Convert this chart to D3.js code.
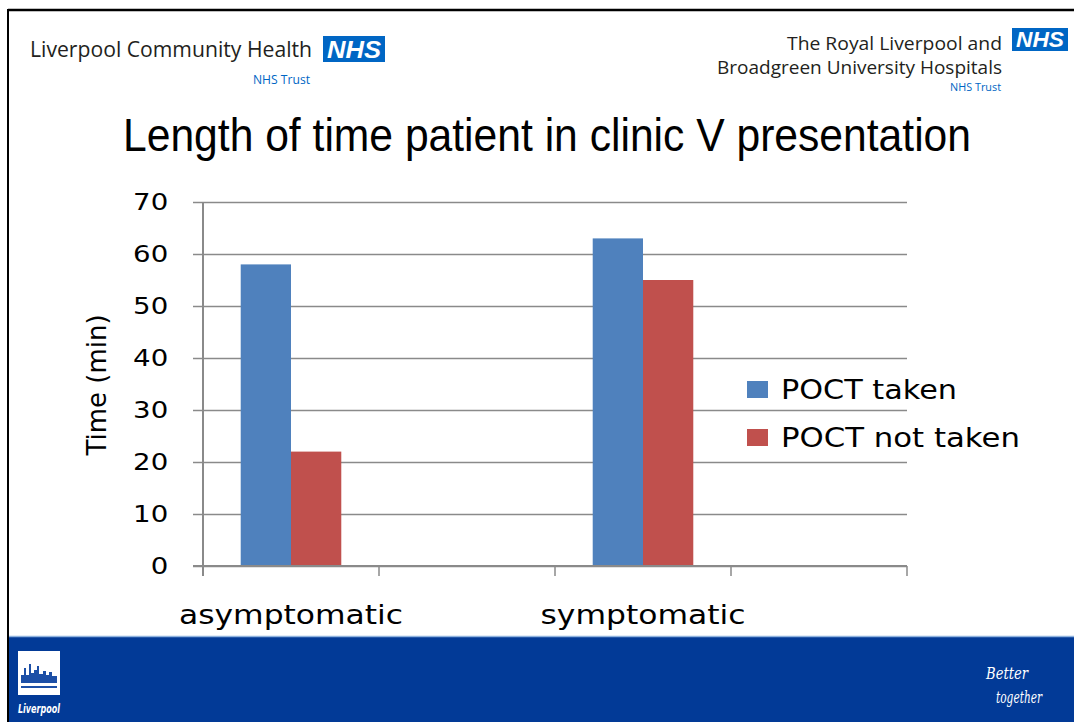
<!DOCTYPE html>
<html>
<head>
<meta charset="utf-8">
<script src="https://cdn.jsdelivr.net/npm/d3@7"></script>
<style>
  body { margin: 0; background: #fff; }
  svg { display: block; }
</style>
</head>
<body>
<svg id="slide" width="1074" height="722"></svg>
<script>
// chart data
var slots = ["asymptomatic", "slot2", "symptomatic", "slot4"]
var slotLabels = ["asymptomatic", "", "symptomatic", ""]
var seriesNames = ["POCT taken", "POCT not taken"]
var poctTaken = [58, null, 63, null]
var poctNotTaken = [22, null, 55, null]
var yTicks = [0, 10, 20, 30, 40, 50, 60, 70]

var colors = ["#4F81BD", "#C0504D"]
var gridColor = "#8a8a8a"

var svg = d3.select("#slide")

// slide frame
svg.append("rect").attr("x", 0).attr("y", 0).attr("width", 1074).attr("height", 722).attr("fill", "#fff")
svg.append("line").attr("x1", 8).attr("x2", 1074).attr("y1", 10).attr("y2", 10)
  .attr("stroke", "#000").attr("stroke-width", 2.5)
svg.append("line").attr("x1", 8).attr("x2", 8).attr("y1", 9).attr("y2", 722)
  .attr("stroke", "#000").attr("stroke-width", 2)

// header, left
svg.append("text").attr("x", 30).attr("y", 57)
  .attr("textLength", 282).attr("lengthAdjust", "spacingAndGlyphs")
  .style("font-family", "'Open Sans'").style("font-size", "21px").style("fill", "#231f20")
  .text("Liverpool Community Health")
function nhsLogo(x, y, w, h) {
  svg.append("rect").attr("x", x).attr("y", y).attr("width", w).attr("height", h).attr("fill", "#0066c4")
  svg.append("text").attr("x", x + w / 2).attr("y", y + h - 4)
    .attr("text-anchor", "middle")
    .attr("textLength", w - 8).attr("lengthAdjust", "spacingAndGlyphs")
    .style("font-family", "'Liberation Sans'").style("font-weight", "bold").style("font-style", "italic")
    .style("font-size", (h * 0.95) + "px").style("fill", "#fff")
    .text("NHS")
}
nhsLogo(323, 36, 62, 26)
svg.append("text").attr("x", 310).attr("y", 84).attr("text-anchor", "end")
  .attr("textLength", 57).attr("lengthAdjust", "spacingAndGlyphs")
  .style("font-family", "'Open Sans'").style("font-size", "12px").style("fill", "#0066c4")
  .text("NHS Trust")

// header, right
svg.append("text").attr("x", 1002).attr("y", 50).attr("text-anchor", "end")
  .attr("textLength", 215).attr("lengthAdjust", "spacingAndGlyphs")
  .style("font-family", "'Open Sans'").style("font-size", "18px").style("fill", "#231f20")
  .text("The Royal Liverpool and")
svg.append("text").attr("x", 1002).attr("y", 74).attr("text-anchor", "end")
  .attr("textLength", 285).attr("lengthAdjust", "spacingAndGlyphs")
  .style("font-family", "'Open Sans'").style("font-size", "18px").style("fill", "#231f20")
  .text("Broadgreen University Hospitals")
nhsLogo(1012, 28, 56, 23)
svg.append("text").attr("x", 1001).attr("y", 91).attr("text-anchor", "end")
  .attr("textLength", 51).attr("lengthAdjust", "spacingAndGlyphs")
  .style("font-family", "'Open Sans'").style("font-size", "11px").style("fill", "#0066c4")
  .text("NHS Trust")

// title
svg.append("text").attr("x", 123).attr("y", 151)
  .attr("textLength", 848).attr("lengthAdjust", "spacingAndGlyphs")
  .style("font-family", "'Liberation Sans'").style("font-size", "46px").style("fill", "#000")
  .text("Length of time patient in clinic V presentation")

// chart
var x = d3.scaleBand().domain(slots).range([203, 907])
var xInner = d3.scaleBand().domain(seriesNames).range([0, x.bandwidth()]).paddingOuter(0.75)
var y = d3.scaleLinear().domain([0, 70]).range([566, 202])

// gridlines
svg.append("g")
  .attr("transform", "translate(203,0)")
  .call(d3.axisLeft(y).tickValues(yTicks).tickSize(-704).tickFormat(""))
  .call(function (g) { g.select(".domain").remove() })
  .selectAll("line").attr("stroke", gridColor).attr("stroke-width", 1.5)

// bars
var series = [poctTaken, poctNotTaken]
series.forEach(function (vals, si) {
  svg.append("g").selectAll("rect")
    .data(slots.map(function (s, i) { return { slot: s, v: vals[i] } }).filter(function (d) { return d.v != null }))
    .enter().append("rect")
    .attr("x", function (d) { return x(d.slot) + xInner(seriesNames[si]) })
    .attr("width", xInner.bandwidth())
    .attr("y", function (d) { return y(d.v) })
    .attr("height", function (d) { return y(0) - y(d.v) })
    .attr("fill", colors[si])
})

// y axis
var yAxis = svg.append("g")
  .attr("transform", "translate(203,0)")
  .call(d3.axisLeft(y).tickValues(yTicks).tickSize(10).tickPadding(19).tickSizeOuter(0))
yAxis.select(".domain").attr("stroke", gridColor).attr("stroke-width", 2)
  .attr("d", "M0," + y(70) + "V" + (y(0) + 10))
yAxis.selectAll(".tick line").attr("stroke", gridColor).attr("stroke-width", 1.5)
yAxis.selectAll(".tick text")
  .style("font-family", "'DejaVu Sans'").style("font-size", "23px").style("fill", "#000")
  .attr("transform", "scale(1.2,1)")

// x axis: line, ticks at slot boundaries, labels at slot centres
svg.append("line").attr("x1", 193).attr("x2", 907).attr("y1", y(0)).attr("y2", y(0))
  .attr("stroke", gridColor).attr("stroke-width", 2)
var bounds = slots.map(function (s) { return x(s) }).concat([x.range()[1]])
svg.append("g").selectAll("line").data(bounds).enter().append("line")
  .attr("x1", function (d) { return d }).attr("x2", function (d) { return d })
  .attr("y1", y(0)).attr("y2", y(0) + 10)
  .attr("stroke", gridColor).attr("stroke-width", 1.5)
var labelLen = { asymptomatic: 224, symptomatic: 205 }
var xAxis = svg.append("g")
  .attr("transform", "translate(0," + (y(0) + 30) + ")")
  .call(d3.axisBottom(x).tickSize(0).tickFormat(function (d, i) { return slotLabels[i] }))
xAxis.select(".domain").remove()
xAxis.selectAll(".tick text")
  .style("font-family", "'DejaVu Sans'").style("font-size", "26px").style("fill", "#000")
  .attr("textLength", function () { return labelLen[this.textContent] || null })
  .attr("lengthAdjust", "spacingAndGlyphs")
  .attr("dy", "0.95em")

// y title
svg.append("text")
  .attr("transform", "translate(106,385) rotate(-90)")
  .attr("text-anchor", "middle")
  .style("font-family", "'DejaVu Sans'").style("font-size", "26px").style("fill", "#000")
  .text("Time (min)")

// legend
var legendLen = [176, 239]
var legend = svg.append("g").selectAll("g").data(seriesNames).enter().append("g")
  .attr("transform", function (d, i) { return "translate(747," + (381 + i * 48) + ")" })
legend.append("rect").attr("width", 21).attr("height", 17)
  .attr("fill", function (d, i) { return colors[i] })
legend.append("text").attr("x", 34).attr("y", 18)
  .attr("textLength", function (d, i) { return legendLen[i] }).attr("lengthAdjust", "spacingAndGlyphs")
  .style("font-family", "'DejaVu Sans'").style("font-size", "26px").style("fill", "#000")
  .text(function (d) { return d })

// footer band
svg.append("rect").attr("x", 9).attr("y", 636).attr("width", 1065).attr("height", 86).attr("fill", "#023a97")
svg.append("line").attr("x1", 9).attr("x2", 1074).attr("y1", 636.5).attr("y2", 636.5)
  .attr("stroke", "#8fb3df").attr("stroke-width", 1.5)

// Liverpool logo
var logo = svg.append("g").attr("transform", "translate(18,651)")
logo.append("rect").attr("width", 42).attr("height", 44).attr("fill", "#fff")
logo.append("path").attr("fill", "#1d4fa6")
  .attr("d", "M3,32 L3,24 L6,24 L6,17 L8,17 L8,24 L11,24 L11,13 L13,13 L13,22 L16,22 L16,19 L19,19 L19,15 L21,15 L21,23 L25,23 L25,20 L28,20 L28,24 L31,24 L31,21 L34,21 L34,25 L39,25 L39,32 Z")
logo.append("rect").attr("x", 3).attr("y", 35).attr("width", 36).attr("height", 2).attr("fill", "#1d4fa6")
logo.append("text").attr("x", 21).attr("y", 62).attr("text-anchor", "middle")
  .attr("textLength", 42).attr("lengthAdjust", "spacingAndGlyphs")
  .style("font-family", "'DejaVu Sans Condensed', 'DejaVu Sans'").style("font-weight", "bold").style("font-style", "italic")
  .style("font-size", "13px").style("fill", "#fff")
  .text("Liverpool")

// Better together
svg.append("text").attr("x", 986).attr("y", 679)
  .style("font-family", "'DejaVu Serif'").style("font-style", "italic")
  .style("font-size", "17px").style("fill", "#fff")
  .attr("textLength", 42).attr("lengthAdjust", "spacingAndGlyphs")
  .text("Better")
svg.append("text").attr("x", 996).attr("y", 703)
  .style("font-family", "'DejaVu Serif'").style("font-style", "italic")
  .style("font-size", "17px").style("fill", "#fff")
  .attr("textLength", 46).attr("lengthAdjust", "spacingAndGlyphs")
  .text("together")
</script>
</body>
</html>
